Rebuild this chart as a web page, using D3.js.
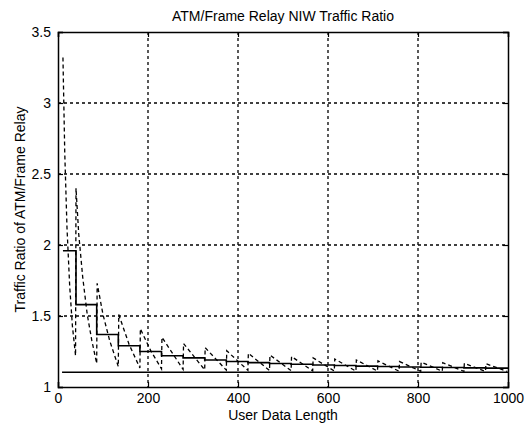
<!DOCTYPE html>
<html><head><meta charset="utf-8">
<script src="https://cdn.jsdelivr.net/npm/d3@7/dist/d3.min.js"></script>
<style>
body{margin:0;background:#fff;}
text{font-family:"Liberation Sans",Arial,sans-serif;fill:#000;}
</style></head>
<body><svg id="c" width="531" height="430"></svg>
<script>
const title = "ATM/Frame Relay NIW Traffic Ratio";
const xLabel = "User Data Length";
const yLabel = "Traffic Ratio of ATM/Frame Relay";
const xTicks = [0, 200, 400, 600, 800, 1000];
const yTicks = [1, 1.5, 2, 2.5, 3, 3.5];

// asymptote (solid horizontal)
const asymX = [9, 1000];
const asymY = [1.104, 1.104];

// staircase (solid): step start lengths and values
const stepX = [11, 40, 86, 134, 182, 230, 278, 326, 374, 422, 470, 518, 566, 614, 662, 710, 758, 806, 854, 902, 950, 1000];
const stepY = [1.96, 1.58, 1.37, 1.29, 1.25, 1.22, 1.205, 1.19, 1.18, 1.172, 1.165, 1.16, 1.155, 1.151, 1.147, 1.144, 1.141, 1.139, 1.137, 1.135, 1.133, 1.133];

// sawtooth (dashed): vertices
const sawX = [11, 15, 20, 26, 32, 39,
  40, 46, 55, 65, 75, 86,
  87, 100, 115, 134,
  135, 158, 182,
  183, 206, 230,
  231, 278, 279, 326, 327, 374, 375, 422, 423, 470, 471, 518, 519, 566,
  567, 614, 615, 662, 663, 710, 711, 758, 759, 806, 807, 854, 855, 902,
  903, 950, 951, 998];
const sawY = [3.32, 2.65, 2.12, 1.71, 1.43, 1.22,
  2.40, 2.08, 1.77, 1.51, 1.33, 1.165,
  1.73, 1.51, 1.325, 1.144,
  1.51, 1.30, 1.134,
  1.41, 1.256, 1.128,
  1.35, 1.124, 1.306, 1.121, 1.277, 1.119, 1.255, 1.117, 1.238, 1.116, 1.225, 1.115, 1.214, 1.114,
  1.205, 1.113, 1.197, 1.112, 1.19, 1.112, 1.184, 1.111, 1.179, 1.111, 1.175, 1.111, 1.171, 1.110,
  1.167, 1.110, 1.164, 1.110];

const m = {l:58, r:508, t:32, b:387};
const svg = d3.select("#c");
const x = d3.scaleLinear().domain([0,1000]).range([m.l, m.r]);
const y = d3.scaleLinear().domain([1,3.5]).range([m.b, m.t]);

// grid
const g = svg.append("g");
g.selectAll(".gx").data(xTicks.slice(1,-1)).join("line")
  .attr("x1",d=>x(d)).attr("x2",d=>x(d)).attr("y1",m.t).attr("y2",m.b)
  .attr("stroke","#000").attr("stroke-width",1.3).attr("stroke-dasharray","3,3");
g.selectAll(".gy").data(yTicks.slice(1,-1)).join("line")
  .attr("y1",d=>y(d)).attr("y2",d=>y(d)).attr("x1",m.l).attr("x2",m.r)
  .attr("stroke","#000").attr("stroke-width",1.3).attr("stroke-dasharray","3,3");

// axes
svg.append("g").attr("transform",`translate(0,${m.b})`)
  .call(d3.axisBottom(x).tickValues(xTicks).tickSize(-5).tickPadding(6).tickFormat(d3.format("d")));
svg.append("g").attr("transform",`translate(${m.l},0)`)
  .call(d3.axisLeft(y).tickValues(yTicks).tickSize(-5).tickPadding(7).tickFormat(d=>d3.format("")(d)));
svg.append("g").attr("transform",`translate(0,${m.t})`)
  .call(d3.axisTop(x).tickValues(xTicks).tickSize(-5).tickFormat(""));
svg.append("g").attr("transform",`translate(${m.r},0)`)
  .call(d3.axisRight(y).tickValues(yTicks).tickSize(-5).tickFormat(""));
svg.selectAll(".domain").attr("stroke","#000").attr("stroke-width",1.5);
svg.selectAll(".tick line").attr("stroke","#000").attr("stroke-width",1.2);
svg.selectAll(".tick text").attr("font-size",14).attr("font-family","Liberation Sans, Arial, sans-serif");

// lines
const line = d3.line().x(d=>x(d[0])).y(d=>y(d[1]));
svg.append("path").datum(asymX.map((v,i)=>[v,asymY[i]]))
  .attr("d",line).attr("fill","none").attr("stroke","#000").attr("stroke-width",1.6);
svg.append("path").datum(stepX.map((v,i)=>[v,stepY[i]]))
  .attr("d",d3.line().x(d=>x(d[0])).y(d=>y(d[1])).curve(d3.curveStepAfter))
  .attr("fill","none").attr("stroke","#000").attr("stroke-width",1.6);
svg.append("path").datum(sawX.map((v,i)=>[v,sawY[i]]))
  .attr("d",line).attr("fill","none").attr("stroke","#000")
  .attr("stroke-width",1.3).attr("stroke-dasharray","4,3");

// texts
svg.append("text").attr("x",(m.l+m.r)/2).attr("y",21).attr("text-anchor","middle")
  .attr("font-size",14).text(title);
svg.append("text").attr("x",(m.l+m.r)/2).attr("y",420).attr("text-anchor","middle")
  .attr("font-size",14).text(xLabel);
svg.append("text").attr("transform",`translate(25,${(m.t+m.b)/2}) rotate(-90)`).attr("text-anchor","middle")
  .attr("font-size",14).text(yLabel);
</script></body></html>
